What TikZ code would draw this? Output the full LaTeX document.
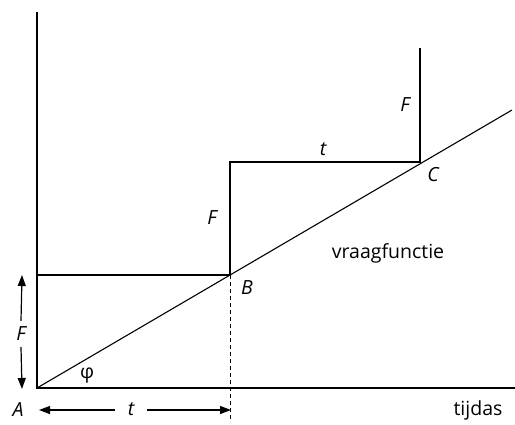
\documentclass[tikz,border=0pt]{standalone}
\usepackage{fontspec}
\setmainfont{Open Sans}
\usetikzlibrary{arrows.meta, positioning}

\begin{document}
\begin{tikzpicture}[
    x=1pt, y=-1pt,
    curve/.style={draw=black, line width=1.1pt},
    dim/.style={draw=black, line width=1.2pt, -{Triangle[length=11pt, width=8pt]}},
    lbl/.style={font=\fontsize{19.5}{22}\selectfont\itshape, inner sep=1pt},
    txt/.style={font=\fontsize{19.5}{22}\selectfont, inner sep=1pt}
]
    \useasboundingbox (0,0) rectangle (515,424);

    % Points
    \coordinate (A) at (37,388);
    \coordinate (B) at (230,275);
    \coordinate (C) at (420,162);
    \coordinate (top) at (37,12);
    \coordinate (xend) at (515,388);
    \coordinate (lineend) at (512,110);
    \coordinate (left1) at (37,275);
    \coordinate (step1) at (230,162);
    \coordinate (step2) at (420,48);
    \coordinate (dashend) at (230,421);

    % Axes
    \draw[curve] (top) -- (A) -- (xend);

    % Demand function and steps
    \draw[curve] (A) -- (lineend);
    \draw[curve] (left1) -- (B) -- (step1) -- (C) -- (step2);
    \draw[black, line width=0.9pt, dash pattern=on 4pt off 3pt] (B) -- (dashend);

    % Dimension arrows
    \node[lbl] (Fdim) at (21,334) {F};
    \coordinate (Fup) at (22,275);
    \coordinate (Fdown) at (22,389);
    \draw[dim] (Fdim.north) ++(0,-5) coordinate (Fa) (Fa) -- (Fup);
    \draw[dim] (Fdim.south) ++(0,5) coordinate (Fb) (Fb) -- (Fdown);

    \node[lbl] (tdim) at (131,409) {t};
    \coordinate (tleft) at (39,410);
    \coordinate (tright) at (231,410);
    \draw[dim] ([xshift=-12pt,yshift=-1pt]tdim.west) -- (tleft);
    \draw[dim] ([xshift=12pt,yshift=-1pt]tdim.east) -- (tright);

    % Labels
    \node[lbl] (Alabel) at (18,410) {A};
    \node[lbl] (Blabel) at (247,288) {B};
    \node[lbl] (Clabel) at (433,175) {C};
    \node[lbl] (F1) at (212,218) {F};
    \node[lbl] (F2) at (405,105) {F};
    \node[lbl] (t2) at (323,149) {t};
    \node[txt] (phi) at (87,376) {φ};
    \node[txt] (vraag) at (388,253) {vraagfunctie};
    \node[txt] (tijd) at (478,410) {tijdas};
\end{tikzpicture}
\end{document}
